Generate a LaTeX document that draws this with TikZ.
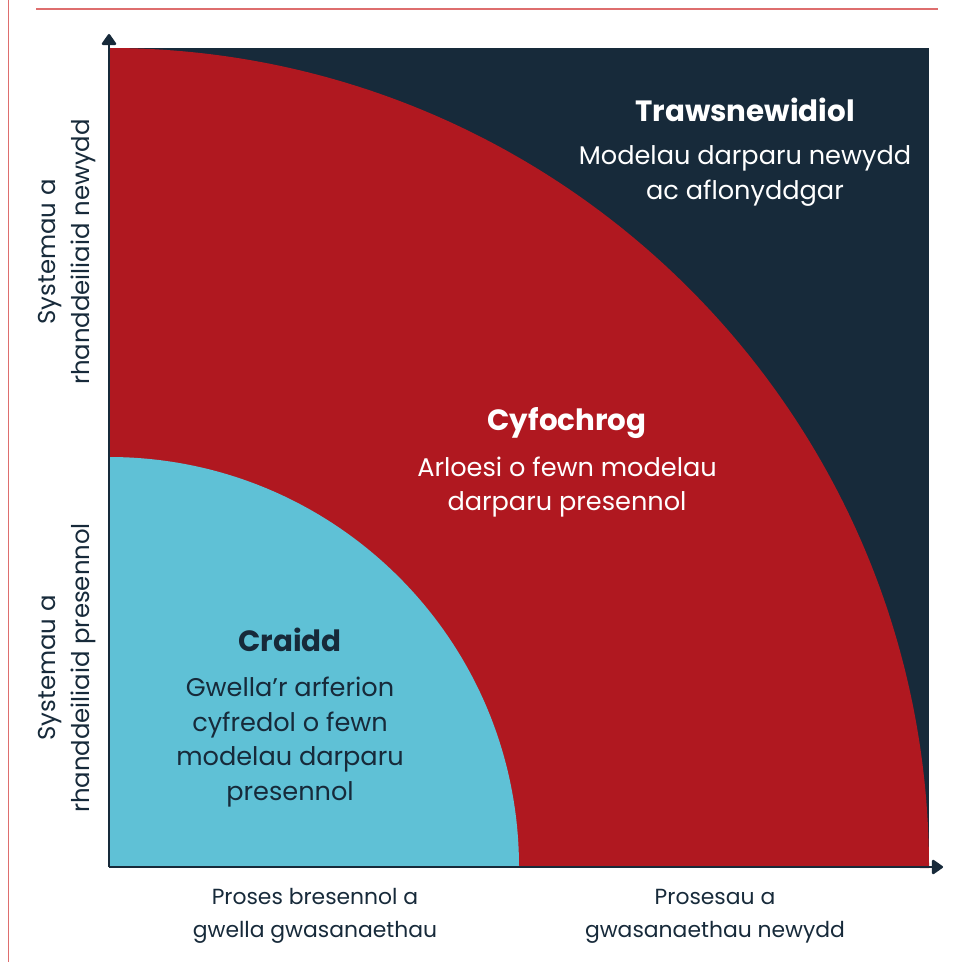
\documentclass[tikz,border=0pt]{standalone}
\usepackage{fontspec}
\setmainfont{Poppins}
\usetikzlibrary{positioning, arrows.meta}
\definecolor{navyColor}{RGB}{23,42,58}
\definecolor{redColor}{RGB}{176,24,32}
\definecolor{cyanColor}{RGB}{95,193,214}
\definecolor{ruleColor}{RGB}{222,110,110}
\tikzstyle{pixels} = [x = 0.75pt, y = -0.75pt]
\tikzstyle{axisLine} = [color=navyColor, line width=1.8pt, -{Triangle[width=12pt, length=9pt, round]}]
\tikzstyle{ruleLine} = [color=ruleColor, line width=1.2pt]
\tikzstyle{titleText} = [font=\fontsize{22}{26}\selectfont\bfseries, align=center, inner sep=0pt]
\tikzstyle{bodyText} = [font=\fontsize{19.2}{26}\selectfont, align=center, inner sep=0pt]
\tikzstyle{sideText} = [font=\fontsize{18.3}{26}\selectfont, align=center, inner sep=0pt, text=navyColor, rotate=90]
\tikzstyle{footText} = [font=\fontsize{16.4}{24.5}\selectfont, align=center, inner sep=0pt, text=navyColor]
\begin{document}
\begin{tikzpicture}[pixels]
  \useasboundingbox (0,0) rectangle (952,962);
  % frame rules
  \draw [ruleLine] (8.5,0) -- (8.5,962);
  \draw [ruleLine] (36,9) -- (938,9);

  % regions
  \coordinate (origin) at (109,867);
  \fill [navyColor] (109,48) rectangle (929,867);
  \fill [redColor] (origin) -- (109,48) arc (-90:0:820) -- cycle;
  \fill [cyanColor] (origin) -- (109,457) arc (-90:0:410) -- cycle;

  % axes
  \coordinate (yEnd) at (109,34);
  \coordinate (xEnd) at (943,867);
  \draw [axisLine] (origin) -- (yEnd);
  \draw [axisLine] (origin) -- (xEnd);

  % labels
  \node [titleText, text=white] (transTitle) at (745,110) {Trawsnewidiol};
  \node [bodyText, text=white] (transText) at (745,176) {Modelau darparu newydd\\ac aflonyddgar};
  \node [titleText, text=white] (adjTitle) at (567,423) {Cyfochrog};
  \node [bodyText, text=white] (adjText) at (567,487) {Arloesi o fewn modelau\\darparu presennol};
  \node [titleText, text=navyColor] (coreTitle) at (290,640) {Craidd};
  \node [bodyText, text=navyColor] (coreText) at (290,742) {Gwella’r arferion\\cyfredol o fewn\\modelau darparu\\presennol};

  \node [sideText] (yNew) at (67,252) {Systemau a\\rhanddeiliaid newydd};
  \node [sideText] (yOld) at (67,668) {Systemau a\\rhanddeiliaid presennol};
  \node [footText] (xOld) at (315,916) {Proses bresennol a\\gwella gwasanaethau};
  \node [footText] (xNew) at (715,916) {Prosesau a\\gwasanaethau newydd};
\end{tikzpicture}
\end{document}
